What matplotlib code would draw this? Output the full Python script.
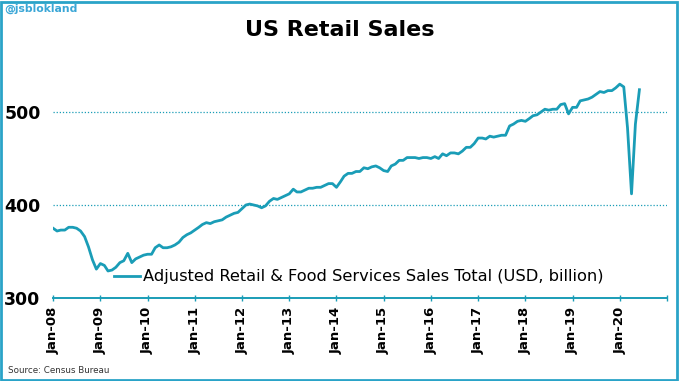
import matplotlib
matplotlib.use("Agg")
import matplotlib.pyplot as plt
import matplotlib.dates as mdates
from matplotlib.patches import Rectangle
import datetime as dt

# Monthly values, Jan 2008 - Jun 2020 (USD billion)
sales_2008 = [375, 372, 373, 373, 376, 376, 375, 372, 366, 355, 341, 331]
sales_2009 = [337, 335, 329, 330, 333, 338, 340, 348, 338, 342, 344, 346]
sales_2010 = [347, 347, 354, 357, 354, 354, 355, 357, 360, 365, 368, 370]
sales_2011 = [373, 376, 379, 381, 380, 382, 383, 384, 387, 389, 391, 392]
sales_2012 = [396, 400, 401, 400, 399, 397, 399, 404, 407, 406, 408, 410]
sales_2013 = [412, 417, 414, 414, 416, 418, 418, 419, 419, 421, 423, 423]
sales_2014 = [419, 425, 431, 434, 434, 436, 436, 440, 439, 441, 442, 440]
sales_2015 = [437, 436, 442, 444, 448, 448, 451, 451, 451, 450, 451, 451]
sales_2016 = [450, 452, 450, 455, 453, 456, 456, 455, 458, 462, 462, 466]
sales_2017 = [472, 472, 471, 474, 473, 474, 475, 475, 485, 487, 490, 491]
sales_2018 = [490, 493, 496, 497, 500, 503, 502, 503, 503, 508, 509, 498]
sales_2019 = [505, 505, 512, 513, 514, 516, 519, 522, 521, 523, 523, 526]
sales_2020 = [530, 527, 483, 412, 487, 524]

values = (sales_2008 + sales_2009 + sales_2010 + sales_2011 + sales_2012 + sales_2013 +
          sales_2014 + sales_2015 + sales_2016 + sales_2017 + sales_2018 + sales_2019 + sales_2020)
dates = [dt.date(2008 + i // 12, i % 12 + 1, 1) for i in range(len(values))]

tick_years = list(range(2008, 2022))
y_ticks = [300, 400, 500]

title = "US Retail Sales"
series_label = "Adjusted Retail & Food Services Sales Total (USD, billion)"
handle_text = "@jsblokland"
source_text = "Source: Census Bureau"

line_color = "#1a9db7"
frame_color = "#2aa3c8"

fig = plt.figure(figsize=(6.8, 3.81), dpi=100)
ax = fig.add_axes([0.078, 0.218, 0.903, 0.61])

ax.plot(dates, values, color=line_color, lw=2.0, label=series_label, solid_joinstyle="round")

ax.set_xlim(dt.date(2008, 1, 1), dt.date(2021, 1, 1))
ax.set_ylim(300, 550)

ticks = [mdates.date2num(dt.date(y, 1, 1)) for y in tick_years]
ax.set_xticks(ticks)
ax.set_xticklabels([dt.date(y, 1, 1).strftime("%b-%y") if y < 2021 else "" for y in tick_years],
                   rotation=90, fontweight="bold", fontsize=9.5)
ax.set_yticks(y_ticks)
ax.set_yticklabels([str(v) for v in y_ticks], fontweight="bold", fontsize=12.5)

for s in ["left", "right", "top"]:
    ax.spines[s].set_visible(False)
ax.spines["bottom"].set_color(line_color)
ax.spines["bottom"].set_linewidth(1.4)
ax.tick_params(axis="x", colors=line_color, direction="inout", length=5, width=1, pad=4,
               labelcolor="black")
ax.tick_params(axis="y", length=0, pad=9)

for v in y_ticks[1:]:
    ax.axhline(v, color=line_color, lw=0.9, ls=(0, (1, 1.5)), zorder=0)

leg = ax.legend(loc="lower left", bbox_to_anchor=(0.088, 0.03), frameon=False, fontsize=11.7,
                handlelength=1.6, handletextpad=0.2, borderaxespad=0)

fig.text(0.5, 0.92, title, ha="center", va="center", fontsize=16, fontweight="bold")
fig.text(0.006, 0.976, handle_text, ha="left", va="center", fontsize=7.8, fontweight="bold",
         color="#3aa6d6")
fig.text(0.012, 0.028, source_text, ha="left", va="center", fontsize=6.3, color="#333333")

fig.patches.append(Rectangle((0.002, 0.003), 0.994, 0.992, transform=fig.transFigure,
                             fill=False, edgecolor=frame_color, lw=2))

fig.savefig("out.png", dpi=100)
